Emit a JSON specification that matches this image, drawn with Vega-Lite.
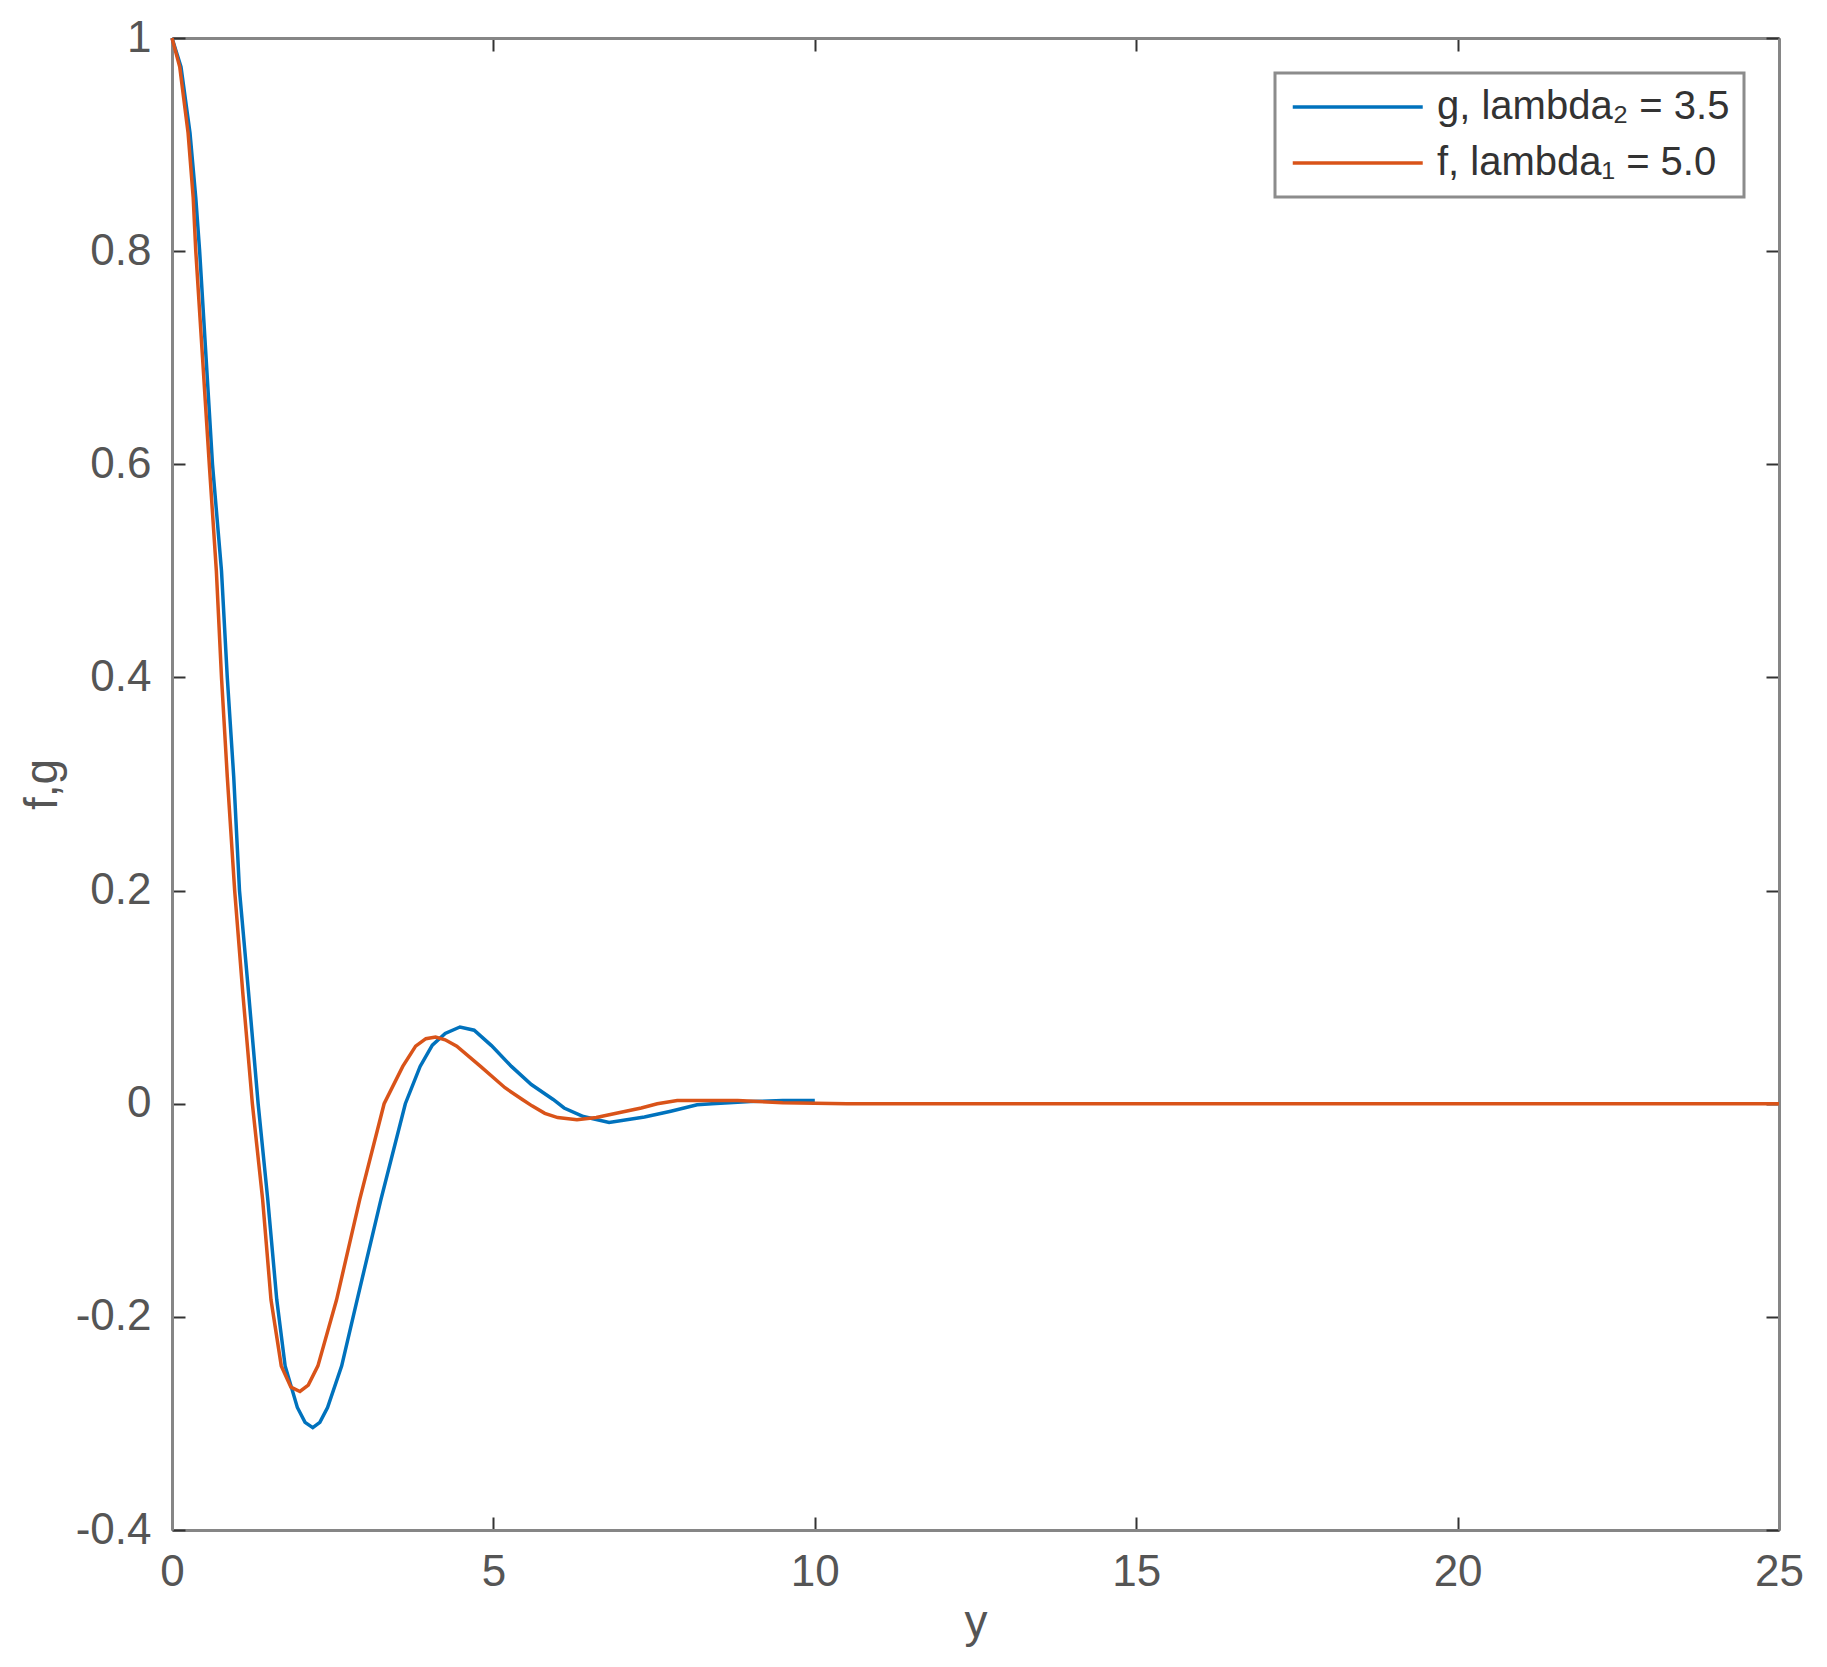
{
  "$schema": "https://vega.github.io/schema/vega-lite/v6.json",
  "width": 1607,
  "height": 1492,
  "autosize": {"type": "none"},
  "padding": {"left": 172, "top": 38, "right": 48, "bottom": 137},
  "background": "white",
  "config": {"view": {"stroke": null}, "font": "Liberation Sans", "legend": {"strokeWidth": 3}},
  "data": {
    "values": [
      {"x": 0, "v": 1, "series": "g"},
      {"x": 0.14, "v": 0.973, "series": "g"},
      {"x": 0.28, "v": 0.911, "series": "g"},
      {"x": 0.37, "v": 0.85, "series": "g"},
      {"x": 0.43, "v": 0.8, "series": "g"},
      {"x": 0.53, "v": 0.7, "series": "g"},
      {"x": 0.63, "v": 0.6, "series": "g"},
      {"x": 0.77, "v": 0.5, "series": "g"},
      {"x": 0.86, "v": 0.4, "series": "g"},
      {"x": 0.96, "v": 0.307, "series": "g"},
      {"x": 1.05, "v": 0.2, "series": "g"},
      {"x": 1.19, "v": 0.105, "series": "g"},
      {"x": 1.34, "v": 0, "series": "g"},
      {"x": 1.49, "v": -0.09, "series": "g"},
      {"x": 1.63, "v": -0.184, "series": "g"},
      {"x": 1.76, "v": -0.246, "series": "g"},
      {"x": 1.95, "v": -0.285, "series": "g"},
      {"x": 2.07, "v": -0.299, "series": "g"},
      {"x": 2.19, "v": -0.304, "series": "g"},
      {"x": 2.3, "v": -0.299, "series": "g"},
      {"x": 2.42, "v": -0.285, "series": "g"},
      {"x": 2.64, "v": -0.246, "series": "g"},
      {"x": 2.88, "v": -0.184, "series": "g"},
      {"x": 3.25, "v": -0.09, "series": "g"},
      {"x": 3.63, "v": 0, "series": "g"},
      {"x": 3.86, "v": 0.035, "series": "g"},
      {"x": 4.05, "v": 0.055, "series": "g"},
      {"x": 4.25, "v": 0.066, "series": "g"},
      {"x": 4.48, "v": 0.072, "series": "g"},
      {"x": 4.7, "v": 0.069, "series": "g"},
      {"x": 4.97, "v": 0.0545, "series": "g"},
      {"x": 5.28, "v": 0.035, "series": "g"},
      {"x": 5.59, "v": 0.018, "series": "g"},
      {"x": 5.93, "v": 0.004, "series": "g"},
      {"x": 6.1, "v": -0.004, "series": "g"},
      {"x": 6.4, "v": -0.012, "series": "g"},
      {"x": 6.8, "v": -0.0175, "series": "g"},
      {"x": 7.35, "v": -0.0125, "series": "g"},
      {"x": 7.76, "v": -0.007, "series": "g"},
      {"x": 8.17, "v": -0.001, "series": "g"},
      {"x": 8.4, "v": 0, "series": "g"},
      {"x": 9.0, "v": 0.002, "series": "g"},
      {"x": 9.5, "v": 0.003, "series": "g"},
      {"x": 10, "v": 0.003, "series": "g"},
      {"x": 0, "v": 1, "series": "f"},
      {"x": 0.12, "v": 0.973, "series": "f"},
      {"x": 0.25, "v": 0.911, "series": "f"},
      {"x": 0.33, "v": 0.85, "series": "f"},
      {"x": 0.37, "v": 0.8, "series": "f"},
      {"x": 0.475, "v": 0.7, "series": "f"},
      {"x": 0.58, "v": 0.6, "series": "f"},
      {"x": 0.69, "v": 0.5, "series": "f"},
      {"x": 0.77, "v": 0.4, "series": "f"},
      {"x": 0.86, "v": 0.307, "series": "f"},
      {"x": 0.975, "v": 0.2, "series": "f"},
      {"x": 1.1, "v": 0.105, "series": "f"},
      {"x": 1.25, "v": 0, "series": "f"},
      {"x": 1.41, "v": -0.09, "series": "f"},
      {"x": 1.54, "v": -0.184, "series": "f"},
      {"x": 1.7, "v": -0.246, "series": "f"},
      {"x": 1.85, "v": -0.266, "series": "f"},
      {"x": 1.99, "v": -0.27, "series": "f"},
      {"x": 2.12, "v": -0.264, "series": "f"},
      {"x": 2.27, "v": -0.246, "series": "f"},
      {"x": 2.56, "v": -0.184, "series": "f"},
      {"x": 2.92, "v": -0.09, "series": "f"},
      {"x": 3.3, "v": 0, "series": "f"},
      {"x": 3.59, "v": 0.035, "series": "f"},
      {"x": 3.79, "v": 0.054, "series": "f"},
      {"x": 3.95, "v": 0.061, "series": "f"},
      {"x": 4.1, "v": 0.0626, "series": "f"},
      {"x": 4.25, "v": 0.06, "series": "f"},
      {"x": 4.43, "v": 0.054, "series": "f"},
      {"x": 4.8, "v": 0.035, "series": "f"},
      {"x": 5.18, "v": 0.015, "series": "f"},
      {"x": 5.45, "v": 0.004, "series": "f"},
      {"x": 5.6, "v": -0.002, "series": "f"},
      {"x": 5.8, "v": -0.009, "series": "f"},
      {"x": 6.0, "v": -0.013, "series": "f"},
      {"x": 6.3, "v": -0.015, "series": "f"},
      {"x": 6.6, "v": -0.013, "series": "f"},
      {"x": 6.93, "v": -0.0087, "series": "f"},
      {"x": 7.3, "v": -0.004, "series": "f"},
      {"x": 7.55, "v": 0, "series": "f"},
      {"x": 7.86, "v": 0.003, "series": "f"},
      {"x": 8.8, "v": 0.003, "series": "f"},
      {"x": 9.5, "v": 0.001, "series": "f"},
      {"x": 10.5, "v": 0, "series": "f"},
      {"x": 15, "v": 0, "series": "f"},
      {"x": 20, "v": 0, "series": "f"},
      {"x": 25, "v": 0, "series": "f"}
    ]
  },
  "layer": [
    {
      "mark": {"type": "line", "strokeWidth": 3.5},
      "encoding": {
        "x": {
          "field": "x",
          "type": "quantitative",
          "scale": {"domain": [0, 25], "nice": false, "zero": false},
          "axis": {
            "orient": "bottom",
            "values": [0, 5, 10, 15, 20, 25],
            "title": "y",
            "grid": false,
            "domainColor": "#868686",
            "domainWidth": 3,
            "tickColor": "#333333",
            "tickWidth": 2,
            "tickSize": -13,
            "labelFontSize": 44,
            "labelColor": "#555555",
            "labelFont": "Liberation Sans",
            "labelPadding": 33,
            "labelFlush": false,
            "labelOverlap": false,
            "titleFont": "Liberation Sans",
            "titleFontSize": 46,
            "titleFontWeight": "normal",
            "titleColor": "#555555",
            "titleX": 803.5,
            "titleY": 106,
            "titleAlign": "center",
            "titleBaseline": "alphabetic"
          }
        },
        "y": {
          "field": "v",
          "type": "quantitative",
          "scale": {"domain": [-0.4, 1], "nice": false, "zero": false},
          "axis": {
            "orient": "left",
            "values": [-0.4, -0.2, 0, 0.2, 0.4, 0.6, 0.8, 1],
            "labelExpr": "datum.value < 0 ? '-' + format(-datum.value, '.1~f') : format(datum.value, '.1~f')",
            "title": "f,g",
            "grid": false,
            "domainColor": "#868686",
            "domainWidth": 3,
            "tickColor": "#333333",
            "tickWidth": 2,
            "tickSize": -13,
            "labelFontSize": 44,
            "labelColor": "#555555",
            "labelFont": "Liberation Sans",
            "labelPadding": 34,
            "labelFlush": false,
            "labelOverlap": false,
            "titleFont": "Liberation Sans",
            "titleFontSize": 46,
            "titleFontWeight": "normal",
            "titleColor": "#555555",
            "titleX": -130,
            "titleY": 746,
            "titleAngle": -90,
            "titleAlign": "center",
            "titleBaseline": "middle"
          }
        },
        "color": {
          "field": "series",
          "type": "nominal",
          "scale": {"domain": ["g", "f"], "range": ["#0072BD", "#D95319"]},
          "legend": {
            "orient": "top-right",
            "offset": 35,
            "title": null,
            "padding": 14,
            "fillColor": "white",
            "strokeColor": "#8c8c8c",
            "cornerRadius": 0,
            "symbolType": "M-1,0H7",
            "symbolSize": 1056,
            "symbolStrokeWidth": 3.5,
            "labelOffset": 108,
            "labelFontSize": 40,
            "labelFont": "Liberation Sans",
            "labelColor": "#333333",
            "labelLimit": 0,
            "rowPadding": 16,
            "labelExpr": "datum.label == 'g' ? 'g, lambda₂ = 3.5' : 'f, lambda₁ = 5.0'"
          }
        }
      }
    },
    {
      "mark": {"type": "line", "opacity": 0},
      "encoding": {
        "x": {
          "field": "x",
          "type": "quantitative",
          "axis": {
            "orient": "top",
            "values": [0, 5, 10, 15, 20, 25],
            "labels": false,
            "title": null,
            "grid": false,
            "domainColor": "#868686",
            "domainWidth": 3,
            "tickColor": "#333333",
            "tickWidth": 2,
            "tickSize": -13
          }
        },
        "y": {
          "field": "v",
          "type": "quantitative",
          "axis": {
            "orient": "right",
            "values": [-0.4, -0.2, 0, 0.2, 0.4, 0.6, 0.8, 1],
            "labels": false,
            "title": null,
            "grid": false,
            "domainColor": "#868686",
            "domainWidth": 3,
            "tickColor": "#333333",
            "tickWidth": 2,
            "tickSize": -13
          }
        },
        "detail": {"field": "series", "type": "nominal"}
      }
    }
  ],
  "resolve": {"axis": {"x": "independent", "y": "independent"}}
}
